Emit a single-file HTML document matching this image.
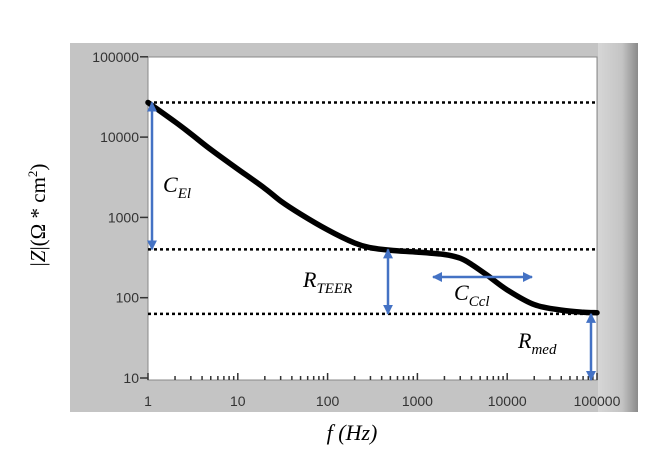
<!DOCTYPE html>
<html><head><meta charset="utf-8"><style>
body{margin:0;background:#fff;width:650px;height:467px;overflow:hidden}
svg text{font-family:"Liberation Sans",sans-serif}
.m{font-family:"Liberation Serif",serif;font-style:italic}
</style></head><body>
<svg width="650" height="467">
<defs>
<linearGradient id="rg" x1="0" x2="1"><stop offset="0" stop-color="#d6d6d6"/><stop offset="0.6" stop-color="#c4c4c4"/><stop offset="1" stop-color="#8a8a8a"/></linearGradient>
<marker id="ah" viewBox="0 0 10 10" refX="9" refY="5" markerWidth="4" markerHeight="4" orient="auto-start-reverse"><path d="M0,0L10,5L0,10z" fill="#4472c4"/></marker>
</defs>
<rect x="70" y="43" width="568" height="369" fill="#c4c4c4"/>
<rect x="598" y="43" width="40" height="369" fill="url(#rg)"/>
<rect x="148" y="57" width="449" height="323" fill="#fff" stroke="#888"/>
<g id="yt"></g>
<g id="xt"></g>
<g id="ref"></g>
<path id="curve" fill="none" stroke="#000" stroke-width="5.5" stroke-linejoin="round" stroke-linecap="round"/>
<g id="arr"></g>
<text x="0" y="0" transform="translate(45,215) rotate(-90)" text-anchor="middle" font-size="21" class="m" style="font-style:normal">|<tspan font-style="italic">Z</tspan>|(Ω * cm<tspan font-size="13" dy="-8">2</tspan><tspan dy="8">)</tspan></text>
<text x="352" y="440" text-anchor="middle" font-size="22" class="m">f (Hz)</text>
</svg>
<script>
const freqs=[1,2,3,5,10,20,30,50,100,200,300,500,1000,2000,3000,4000,6000,10000,20000,40000,70000,100000];
const zvals=[27000,15500,11000,7000,4000,2300,1600,1100,700,480,420,390,370,345,310,260,190,125,82,70,66,65];
const yTicks=[10,100,1000,10000,100000];
const xTicks=[1,10,100,1000,10000,100000];
const refLevels=[27000,400,63];
const X=f=>148+Math.log10(f)*89.8;
const Y=z=>378-(Math.log10(z)-1)*80.3;
const ns="http://www.w3.org/2000/svg";
function mk(p,t,a){const e=document.createElementNS(ns,t);for(const k in a)e.setAttribute(k,a[k]);p.appendChild(e);return e;}
const yt=document.getElementById('yt'),xt=document.getElementById('xt');
yTicks.forEach(v=>{
 const l=mk(yt,'line',{x1:140,x2:148,y1:Y(v),y2:Y(v),stroke:'#333','stroke-width':1.5});
 
 
 const t=mk(yt,'text',{x:139,y:Y(v)+5,'text-anchor':'end','font-size':14,fill:'#333'});t.textContent=v;
 
 
});
xTicks.forEach((v,i)=>{
 const t=mk(xt,'text',{x:X(v),y:406,'text-anchor':'middle','font-size':14,fill:'#333'});t.textContent=v;
 
 
 for(let m=1;m<10;m++){const f=v*m;if(f>100000)break;
  const l=mk(xt,'line',{x1:X(f),x2:X(f),y1:380,y2:m==1?373:376,stroke:'#333','stroke-width':1.5});
  
  }
});
const ref=document.getElementById('ref');
refLevels.forEach(z=>{const l=mk(ref,'line',{x1:148,x2:598,y1:Y(z),y2:Y(z),stroke:'#000','stroke-width':2.5,'stroke-dasharray':'3 3'});
 
 });
// smooth path (Catmull-Rom to Bezier) through data points
const P=freqs.map((f,i)=>[X(f),Y(zvals[i])]);
let d='M'+P[0][0].toFixed(1)+','+P[0][1].toFixed(1);
for(let i=0;i<P.length-1;i++){const p0=P[i-1]||P[i],p1=P[i],p2=P[i+1],p3=P[i+2]||p2;
 const c1=[p1[0]+(p2[0]-p0[0])/6,p1[1]+(p2[1]-p0[1])/6],c2=[p2[0]-(p3[0]-p1[0])/6,p2[1]-(p3[1]-p1[1])/6];
 d+='C'+c1.map(v=>v.toFixed(1))+' '+c2.map(v=>v.toFixed(1))+' '+p2.map(v=>v.toFixed(1));}
document.getElementById('curve').setAttribute('d',d);
const arr=document.getElementById('arr');
function arrow(x1,y1,x2,y2,name){const l=mk(arr,'line',{x1,y1,x2,y2,stroke:'#4472c4','stroke-width':2.5,'marker-start':'url(#ah)','marker-end':'url(#ah)'});
 
 }
arrow(152,Y(refLevels[0]),152,Y(refLevels[1]),'c-el-arrow');
arrow(388,Y(refLevels[1]),388,Y(refLevels[2]),'r-teer-arrow');
arrow(433,277,532,277,'c-ccl-arrow');
arrow(591,Y(refLevels[2]),591,380,'r-med-arrow');
function lab(x,y,main,sub,name){const t=mk(arr,'text',{x,y,'font-size':22,'class':'m'});t.innerHTML=main+'<tspan font-size="15" dy="6">'+sub+'</tspan>';
 
 }
lab(163,192,'C','El','c-el-label');
lab(303,287,'R','TEER','r-teer-label');
lab(454,300,'C','Ccl','c-ccl-label');
lab(518,348,'R','med','r-med-label');
</script>
</body></html>
